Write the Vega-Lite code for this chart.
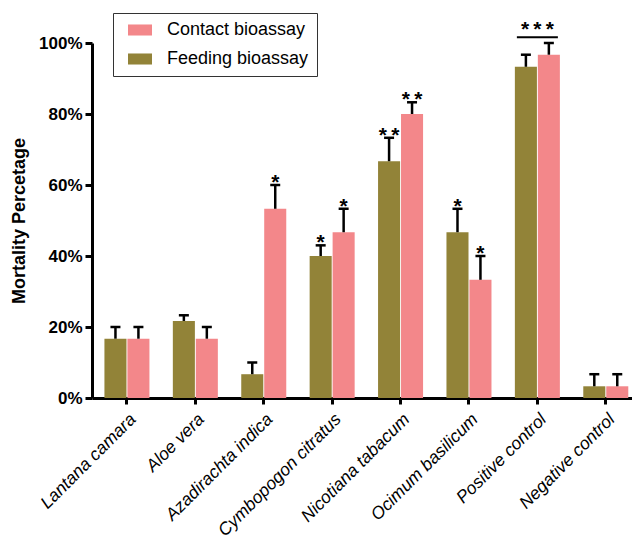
{
  "$schema": "https://vega.github.io/schema/vega-lite/v6.json",
  "autosize": {"type": "none"},
  "width": 540,
  "height": 355,
  "padding": {"left": 92, "top": 43, "right": 0, "bottom": 146},
  "background": "white",
  "config": {
    "font": "Liberation Sans",
    "view": {"stroke": null},
    "axis": {"grid": false, "domainColor": "black", "tickColor": "black", "labelColor": "black", "titleColor": "black"},
    "legend": {
      "orient": "none",
      "legendX": 21,
      "legendY": -30,
      "strokeColor": "#333333",
      "strokeWidth": 1,
      "padding": 8,
      "rowPadding": 11,
      "labelFontSize": 18,
      "labelFont": "Liberation Sans",
      "labelColor": "black",
      "labelOffset": 28,
      "symbolType": "M-0.33,-0.92H3.67V0.92H-0.33Z",
      "symbolSize": 144,
      "symbolStrokeWidth": 0,
      "symbolOpacity": 1
    }
  },
  "datasets": {
    "bars": [
      {"cat": "Lantana camara", "assay": "Feeding bioassay", "value": 0.167, "err": 0.2, "sig": ""},
      {"cat": "Lantana camara", "assay": "Contact bioassay", "value": 0.167, "err": 0.2, "sig": ""},
      {"cat": "Aloe vera", "assay": "Feeding bioassay", "value": 0.217, "err": 0.233, "sig": ""},
      {"cat": "Aloe vera", "assay": "Contact bioassay", "value": 0.167, "err": 0.2, "sig": ""},
      {"cat": "Azadirachta indica", "assay": "Feeding bioassay", "value": 0.067, "err": 0.1, "sig": ""},
      {"cat": "Azadirachta indica", "assay": "Contact bioassay", "value": 0.533, "err": 0.6, "sig": "*"},
      {"cat": "Cymbopogon citratus", "assay": "Feeding bioassay", "value": 0.4, "err": 0.43, "sig": "*"},
      {"cat": "Cymbopogon citratus", "assay": "Contact bioassay", "value": 0.467, "err": 0.533, "sig": "*"},
      {"cat": "Nicotiana tabacum", "assay": "Feeding bioassay", "value": 0.667, "err": 0.733, "sig": "*\u2009*"},
      {"cat": "Nicotiana tabacum", "assay": "Contact bioassay", "value": 0.8, "err": 0.833, "sig": "*\u2009*"},
      {"cat": "Ocimum basilicum", "assay": "Feeding bioassay", "value": 0.467, "err": 0.533, "sig": "*"},
      {"cat": "Ocimum basilicum", "assay": "Contact bioassay", "value": 0.333, "err": 0.4, "sig": "*"},
      {"cat": "Positive control", "assay": "Feeding bioassay", "value": 0.933, "err": 0.967, "sig": ""},
      {"cat": "Positive control", "assay": "Contact bioassay", "value": 0.967, "err": 1.0, "sig": ""},
      {"cat": "Negative control", "assay": "Feeding bioassay", "value": 0.033, "err": 0.067, "sig": ""},
      {"cat": "Negative control", "assay": "Contact bioassay", "value": 0.033, "err": 0.067, "sig": ""}
    ],
    "groups": [
      {"cat": "Positive control", "y": 1.016, "sig": "*\u2009*\u2009*"}
    ]
  },
  "encoding": {
    "x": {
      "field": "cat",
      "type": "nominal",
      "sort": ["Lantana camara", "Aloe vera", "Azadirachta indica", "Cymbopogon citratus", "Nicotiana tabacum", "Ocimum basilicum", "Positive control", "Negative control"],
      "scale": {"paddingInner": 0.342, "paddingOuter": 0.118, "align": 0.77},
      "axis": {
        "title": null,
        "labelAngle": -45,
        "labelFontStyle": "italic",
        "labelFontSize": 17.5,
        "labelPadding": 6,
        "domainWidth": 3,
        "tickWidth": 3,
        "tickSize": 6
      }
    }
  },
  "layer": [
    {
      "data": {"name": "bars"},
      "mark": {"type": "bar"},
      "encoding": {
        "xOffset": {"field": "assay", "type": "nominal", "sort": ["Feeding bioassay", "Contact bioassay"], "scale": {"paddingInner": 0.04}},
        "y": {
          "field": "value",
          "type": "quantitative",
          "scale": {"domain": [0, 1], "nice": false},
          "axis": {
            "title": "Mortality Percetage",
            "titleFontSize": 18,
            "titleFontWeight": "bold",
            "titlePadding": 10,
            "values": [0, 0.2, 0.4, 0.6, 0.8, 1],
            "format": ".0%",
            "labelFontSize": 17,
            "labelFontWeight": "bold",
            "labelPadding": 3,
            "domainWidth": 3,
            "tickWidth": 3,
            "tickSize": 7
          }
        },
        "color": {
          "field": "assay",
          "type": "nominal",
          "scale": {"domain": ["Contact bioassay", "Feeding bioassay"], "range": ["#F3878A", "#928338"]},
          "legend": {"title": null}
        }
      }
    },
    {
      "data": {"name": "bars"},
      "mark": {"type": "rule", "color": "black", "strokeWidth": 2.5},
      "encoding": {
        "xOffset": {"field": "assay", "type": "nominal", "sort": ["Feeding bioassay", "Contact bioassay"]},
        "y": {"field": "value", "type": "quantitative"},
        "y2": {"field": "err"}
      }
    },
    {
      "data": {"name": "bars"},
      "mark": {"type": "tick", "color": "black", "thickness": 2.5, "size": 10, "opacity": 1},
      "encoding": {
        "xOffset": {"field": "assay", "type": "nominal", "sort": ["Feeding bioassay", "Contact bioassay"]},
        "y": {"field": "err", "type": "quantitative"}
      }
    },
    {
      "data": {"name": "bars"},
      "mark": {"type": "text", "color": "black", "fontSize": 21, "fontWeight": "bold", "baseline": "alphabetic", "dy": 4},
      "encoding": {
        "xOffset": {"field": "assay", "type": "nominal", "sort": ["Feeding bioassay", "Contact bioassay"]},
        "y": {"field": "err", "type": "quantitative"},
        "text": {"field": "sig"}
      }
    },
    {
      "data": {"name": "groups"},
      "mark": {"type": "tick", "color": "black", "thickness": 2, "size": 41, "opacity": 1},
      "encoding": {
        "y": {"field": "y", "type": "quantitative"}
      }
    },
    {
      "data": {"name": "groups"},
      "mark": {"type": "text", "color": "black", "fontSize": 21, "fontWeight": "bold", "baseline": "alphabetic", "dy": -1},
      "encoding": {
        "y": {"field": "y", "type": "quantitative"},
        "text": {"field": "sig"}
      }
    }
  ]
}
